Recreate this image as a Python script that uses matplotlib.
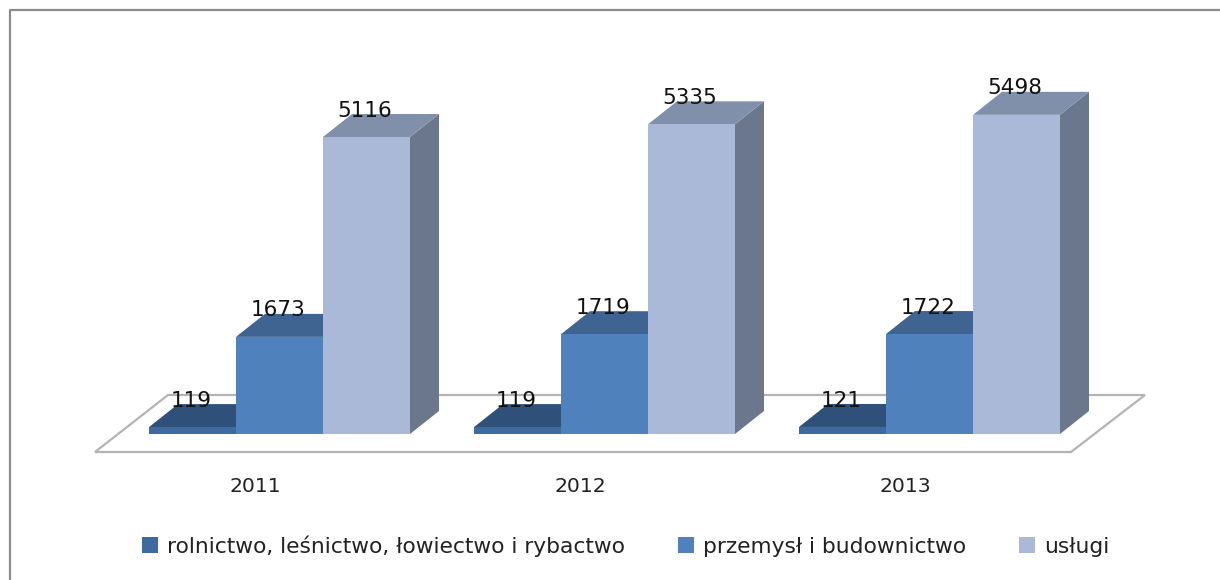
import matplotlib
matplotlib.use("Agg")
import matplotlib.pyplot as plt
from matplotlib.patches import Polygon, Patch
from matplotlib.lines import Line2D

years = ["2011", "2012", "2013"]
series_names = ["rolnictwo, leśnictwo, łowiectwo i rybactwo", "przemysł i budownictwo", "usługi"]
rolnictwo = [119, 119, 121]
przemysl = [1673, 1719, 1722]
uslugi = [5116, 5335, 5498]

W, H = 1220, 580
PX_PER_UNIT = 0.05805
BASE_PX = 434.0
GROUP_PX = 325.0
CENTER0_PX = 279.5
BAR_PX = 87.0
DX_PX, DY_PX = 29.0, 23.0
YEAR_SHIFT_PX = -24.5

front = ["#3d6a9f", "#4f81bd", "#aab9d7"]
top = ["#2f5078", "#3f6491", "#8090aa"]
side = ["#2b4a70", "#3a5c85", "#6b778c"]

plt.rcParams["font.family"] = "DejaVu Sans"
fig = plt.figure(figsize=(W / 100, H / 100), dpi=100, facecolor="white")
ax = fig.add_axes([0, 0, 1, 1])
ax.set_xlim(-CENTER0_PX / GROUP_PX, (W - CENTER0_PX) / GROUP_PX)
ax.set_ylim((BASE_PX - H) / PX_PER_UNIT, BASE_PX / PX_PER_UNIT)
ax.axis("off")

ux = 1 / GROUP_PX          # data units per pixel, horizontally
uy = 1 / PX_PER_UNIT       # data units per pixel, vertically
def P(px, py):
    return ((px - CENTER0_PX) * ux, (BASE_PX - py) * uy)

# chart border (left and top only are inside the crop)
ax.add_line(Line2D(*zip(P(10, 580), P(10, 10), P(1220, 10)), color="#8c8c8c", lw=1.6, zorder=1))

# floor
ax.add_patch(Polygon([P(95, 452), P(1071, 452), P(1145, 395), P(168, 395)], closed=True,
                     facecolor="white", edgecolor="#b4b4b4", lw=1.6, zorder=1, joinstyle="miter"))

bw = BAR_PX * ux
dx = DX_PX * ux
dy = DY_PX * uy
z = 2
for g, year in enumerate(years):
    for s, values in enumerate([rolnictwo, przemysl, uslugi]):
        v = values[g]
        x0 = g + (s - 1.5) * bw
        x1 = x0 + bw
        ax.add_patch(Polygon([(x1, 0), (x1 + dx, dy), (x1 + dx, v + dy), (x1, v)],
                             facecolor=side[s], edgecolor="none", zorder=z))
        ax.add_patch(Polygon([(x0, v), (x1, v), (x1 + dx, v + dy), (x0 + dx, v + dy)],
                             facecolor=top[s], edgecolor="none", zorder=z))
        ax.bar(x0 + bw / 2, v, width=bw, color=front[s], zorder=z + 0.5, linewidth=0)
        z += 1
for g in range(len(years)):
    for s, values in enumerate([rolnictwo, przemysl, uslugi]):
        v = values[g]
        ax.annotate(str(v), xy=(g + (s - 1) * bw, v), xytext=(-1, 19), textcoords="offset points",
                    ha="center", va="center", fontsize=15.5, color="#111111", zorder=50)
    ax.text(g + YEAR_SHIFT_PX * ux, P(0, 486)[1], years[g], ha="center", va="center",
            fontsize=14.7, color="#222222", zorder=50)

handles = [Patch(facecolor=front[i], edgecolor="none", label=series_names[i]) for i in range(3)]
fs = 15.7
em = fs * 100 / 72
leg = ax.legend(handles=handles, ncol=3, frameon=False, fontsize=fs, loc="center",
                bbox_to_anchor=(626 / W, 1 - 546 / H), bbox_transform=fig.transFigure,
                handlelength=16 / em, handleheight=16 / em, handletextpad=9 / em,
                columnspacing=53 / em, borderpad=0, borderaxespad=0, labelcolor="#222222")

fig.savefig("out.png", dpi=100, facecolor="white")
